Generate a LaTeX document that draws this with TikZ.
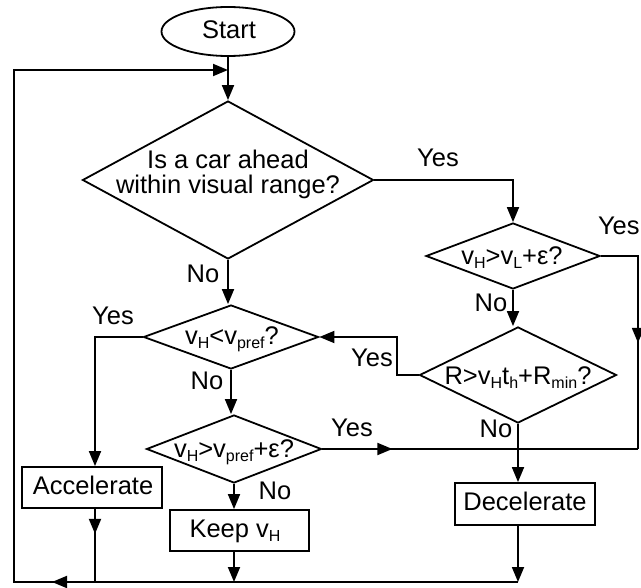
\documentclass[tikz,border=0pt]{standalone}
\usepackage{fontspec}
\setmainfont{Liberation Sans}
\usetikzlibrary{shapes.geometric, arrows.meta, decorations.markings}
% lowered, smaller subscript in running text
\newcommand\sbs[1]{\raisebox{-4pt}{\fontsize{16}{16}\selectfont #1}}
\begin{document}
\begin{tikzpicture}[x=1pt, y=-1pt,
  line width=1.8pt,
  >={Triangle[length=15pt, width=12pt]},
  txt/.style={font=\fontsize{25.5}{25}\selectfont, inner sep=0pt},
  dia/.style={diamond, draw, inner sep=0pt},
  box/.style={rectangle, draw, inner sep=0pt},
  midarrow/.style={postaction={decorate},
    decoration={markings, mark=at position #1 with {\arrow{>}}}},
]
\useasboundingbox (0,0) rectangle (641,588);

% terminal, decisions and actions
\node[ellipse, draw, inner sep=0pt, minimum width=133pt, minimum height=49pt] (start) at (228,31.5) {};
\node[dia, minimum width=291pt, minimum height=158pt] (d1) at (228,180) {};
\node[dia, minimum width=174pt, minimum height=66pt] (d2) at (513,256) {};
\node[dia, minimum width=197pt, minimum height=96pt] (d3) at (518,375) {};
\node[dia, minimum width=175pt, minimum height=64pt] (d4) at (231,337) {};
\node[dia, minimum width=175pt, minimum height=68pt] (d5) at (234,449) {};
\node[box, minimum width=140pt, minimum height=41pt] (acc) at (92,487.5) {};
\node[box, minimum width=139pt, minimum height=41pt] (keep) at (239.5,530.5) {};
\node[box, minimum width=140pt, minimum height=42pt] (dec) at (525,504) {};

% texts
\node[txt, anchor=base] (startt) at (229,39) {Start};
\node[txt, align=center] (d1t) at (228,174.5) {Is a car ahead\\within visual range?};
\node[txt, anchor=base] (d2t) at (512,265) {v\sbs{H}>v\sbs{L}+ε?};
\node[txt, anchor=base] (d3t) at (518,385) {R>v\sbs{H}t\sbs{h}+R\sbs{min}?};
\node[txt, anchor=base] (d4t) at (232,345) {v\sbs{H}<v\sbs{pref}?};
\node[txt, anchor=base] (d5t) at (234,458) {v\sbs{H}>v\sbs{pref}+ε?};
\node[txt, anchor=base] (acct) at (93,495) {Accelerate};
\node[txt, anchor=base] (keept) at (235,537) {Keep v\sbs{H}};
\node[txt, anchor=base] (dect) at (525,511) {Decelerate};

% branch labels
\node[txt, anchor=base] (l1) at (438,167) {Yes};
\node[txt, anchor=base] (l2) at (203,283) {No};
\node[txt, anchor=base east] (l3) at (640.5,235) {Yes};
\node[txt, anchor=base] (l4) at (491,312) {No};
\node[txt, anchor=base] (l5) at (113,325) {Yes};
\node[txt, anchor=base] (l6) at (207,390) {No};
\node[txt, anchor=base] (l7) at (372,367) {Yes};
\node[txt, anchor=base] (l8) at (496,438) {No};
\node[txt, anchor=base] (l9) at (352,437) {Yes};
\node[txt, anchor=base] (l10) at (275,500) {No};

% routing points
\coordinate (j0) at (228,70);
\coordinate (tl) at (14,70);
\coordinate (bl) at (14,582);
\coordinate (br) at (518,582);
\coordinate (c1) at (d2.north |- d1.east);
\coordinate (c2) at (638,256);
\coordinate (c3) at (c2 |- d5.east);
\coordinate (c4) at (397,375);
\coordinate (c5) at (c4 |- d4.east);
\coordinate (c6) at (95,337);

% connectors
\draw[->] (start.south) -- (d1.north);
\draw[->] (d1.east) -- (c1) -- (d2.north);
\draw[->] (d1.south) -- (d1.south |- d4.north);
\draw[->] (d2.south) -- (d2.south |- d3.north);
\draw[midarrow=124pt] (d2.east) -- (c2) -- (c3);
\draw[->] (d3.west) -- (c4) -- (c5) -- (d4.east);
\draw[->] (d3.south) -- (d3.south |- dec.north);
\draw[->] (d4.west) -- (c6) -- (c6 |- acc.north);
\draw[->] (d4.south) -- (d4.south |- d5.north);
\draw[midarrow=70pt] (d5.east) -- (c3);
\draw[->] (d5.south) -- (d5.south |- keep.north);
\draw[midarrow=25pt] (c6 |- acc.south) -- (c6 |- bl);
\draw[->] (d5.south |- keep.south) -- (d5.south |- bl);
\draw[->] (d3.south |- dec.south) -- (br);
\draw[->, midarrow=466pt] (br) -- (bl) -- (tl) -- (j0);
\end{tikzpicture}
\end{document}
